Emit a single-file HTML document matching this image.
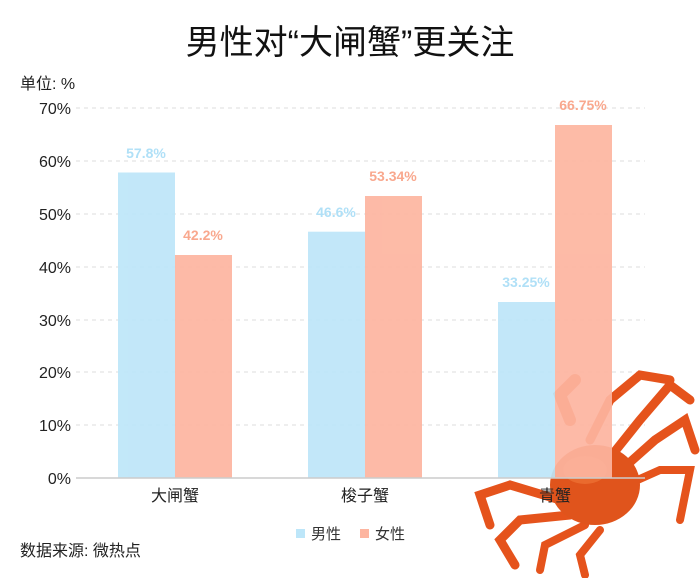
<!DOCTYPE html>
<html><head><meta charset="utf-8"><style>
body{margin:0;background:#fff;}
svg{display:block;font-family:"Liberation Sans","Noto Sans CJK SC",sans-serif;}
</style></head><body>
<svg width="700" height="578" viewBox="0 0 700 578">
<text x="350" y="54" text-anchor="middle" font-size="34" fill="#111">男性对“大闸蟹”更关注</text>
<text x="20" y="89" font-size="16" fill="#222">单位: %</text>
<g stroke="#ddd" stroke-dasharray="4,4" stroke-width="1">
<line x1="76" y1="108" x2="645" y2="108"/><line x1="76" y1="161" x2="645" y2="161"/>
<line x1="76" y1="214" x2="645" y2="214"/><line x1="76" y1="267" x2="645" y2="267"/>
<line x1="76" y1="320" x2="645" y2="320"/><line x1="76" y1="372" x2="645" y2="372"/>
<line x1="76" y1="425" x2="645" y2="425"/></g>
<g font-size="16" fill="#222" text-anchor="end">
<text x="71" y="114">70%</text><text x="71" y="167">60%</text><text x="71" y="220">50%</text>
<text x="71" y="273">40%</text><text x="71" y="326">30%</text><text x="71" y="378">20%</text>
<text x="71" y="431">10%</text><text x="71" y="484">0%</text></g>
<!-- crab -->
<g stroke-linecap="round" fill="none" stroke="#e5531c">
<path d="M600 470 L640 420 L670 385 L690 400" stroke-width="9"/>
<path d="M610 480 L655 440 L685 420 L695 450" stroke-width="9"/>
<path d="M615 490 L660 470 L690 470 L680 520" stroke-width="8"/>
<path d="M590 440 L610 400 L640 375 L670 380" stroke-width="9"/>
<path d="M560 500 L510 485 L480 495 L490 525" stroke-width="9"/>
<path d="M570 515 L520 520 L500 540 L515 565" stroke-width="9"/>
<path d="M585 525 L545 545 L540 570" stroke-width="8"/>
<path d="M600 530 L580 555 L585 575" stroke-width="8"/>
<path d="M570 420 L560 395 L575 380" stroke-width="12"/>
</g>
<ellipse cx="595" cy="485" rx="45" ry="40" fill="#e0541c"/>
<ellipse cx="585" cy="470" rx="22" ry="14" fill="#f07a3a" opacity="0.6"/>
<g opacity="0.92">
<rect x="118" y="172.5" width="57" height="305.5" fill="#bde6f9"/>
<rect x="175" y="255" width="57" height="223" fill="#fdb5a0"/>
<rect x="308" y="231.7" width="57" height="246.3" fill="#bde6f9"/>
<rect x="365" y="196" width="57" height="282" fill="#fdb5a0"/>
<rect x="498" y="302" width="57" height="176" fill="#bde6f9"/>
<rect x="555" y="125" width="57" height="353" fill="#fdb5a0"/>
</g>
<line x1="76" y1="478" x2="645" y2="478" stroke="#ccc" stroke-width="1.5"/>
<g font-size="14" font-weight="bold" text-anchor="middle">
<text x="146" y="158" fill="#b0e0f7">57.8%</text>
<text x="203" y="240" fill="#f9a88e">42.2%</text>
<text x="336" y="217" fill="#b0e0f7">46.6%</text>
<text x="393" y="181" fill="#f9a88e">53.34%</text>
<text x="526" y="287" fill="#b0e0f7">33.25%</text>
<text x="583" y="110" fill="#f9a88e">66.75%</text></g>
<g font-size="16" fill="#222" text-anchor="middle">
<text x="175" y="501">大闸蟹</text><text x="365" y="501">梭子蟹</text><text x="555" y="501">青蟹</text></g>
<rect x="296" y="529" width="9" height="9" fill="#bde6f9"/>
<text x="311" y="539" font-size="15" fill="#333">男性</text>
<rect x="360" y="529" width="9" height="9" fill="#fdb5a0"/>
<text x="375" y="539" font-size="15" fill="#333">女性</text>
<text x="20" y="556" font-size="16" fill="#222">数据来源: 微热点</text>
</svg>
</body></html>
